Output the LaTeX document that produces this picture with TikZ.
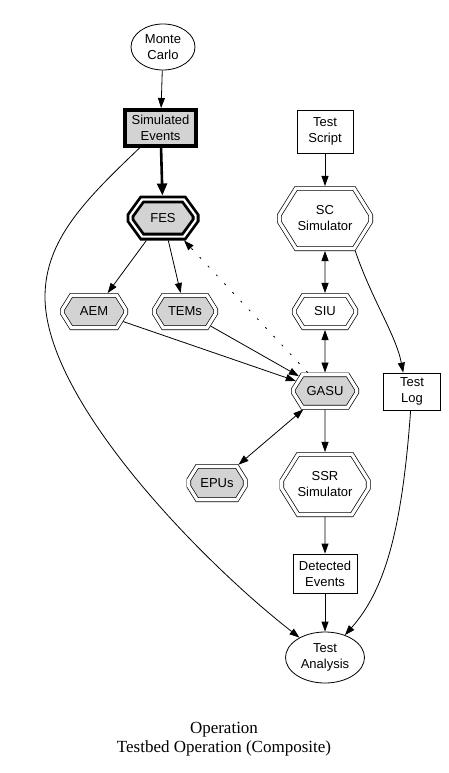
\documentclass[tikz,border=0pt]{standalone}
\usepackage{fontspec}
\setmainfont{Liberation Serif}
\newfontfamily\arialf{Liberation Sans}
\usetikzlibrary{shapes.geometric,shapes.misc,arrows.meta}
\definecolor{lgray}{RGB}{211,211,211}
\begin{document}
\begin{tikzpicture}[x=1pt,y=-1pt,
  lbl/.style={font=\arialf\fontsize{13}{16}\selectfont, align=center, inner sep=0pt},
  elln/.style 2 args={lbl, draw, ellipse, line width=0.8pt, minimum width=#1, minimum height=#2},
  boxn/.style 2 args={lbl, draw, rectangle, line width=0.8pt, minimum width=#1, minimum height=#2},
  octn/.style 2 args={lbl, draw, chamfered rectangle, chamfered rectangle angle=32,
     chamfered rectangle xsep={(#1-4.6)/4}, chamfered rectangle ysep={(#1-4.6)/4*0.625},
     line width=0.7pt, double, double distance=3.2pt, outer sep=2.3pt,
     minimum width={#1-4.6}, minimum height={#2-4.6}},
  grayfill/.style={fill=lgray},
  arr/.style={line width=0.8pt, -{Triangle[length=10pt,width=7pt]}},
  barr/.style={line width=0.8pt, {Triangle[length=10pt,width=7pt]}-{Triangle[length=10pt,width=7pt]}},
  thickarr/.style={line width=2.6pt, -{Triangle[length=12pt,width=10pt]}},
  dotarr/.style={line width=0.8pt, dash pattern=on 2pt off 10pt, -{Triangle[length=10pt,width=7pt]}},
]
\useasboundingbox (0,0) rectangle (448,773);

% nodes
\node[elln={64}{46}] (mc) at (163,47) {Monte\\Carlo};
\node[lbl, draw, rectangle, line width=4pt, grayfill, minimum width=71, minimum height=36] (sim) at (160.5,128) {Simulated\\Events};
\node[lbl, draw, chamfered rectangle, chamfered rectangle angle=36,
      chamfered rectangle xsep=16, chamfered rectangle ysep=11.6,
      grayfill, line width=2.8pt, double, double distance=2.2pt, outer sep=3.9pt,
      minimum width=65.2, minimum height=37.2] (fes) at (163,218) {FES};
\node[boxn={56}{43}] (ts) at (325,131.5) {Test\\Script};
\node[octn={96}{65}] (sc) at (325,218.5) {SC\\Simulator};
\node[octn={68}{37}, grayfill] (aem) at (94,311.5) {AEM};
\node[octn={66}{37}, grayfill] (tems) at (185,311.5) {TEMs};
\node[octn={66}{37}] (siu) at (325,311.5) {SIU};
\node[octn={68}{37}, grayfill] (gasu) at (325,391) {GASU};
\node[boxn={57}{37}] (log) at (412,391.5) {Test\\Log};
\node[octn={61}{38}, grayfill] (epus) at (217,483) {EPUs};
\node[octn={91}{65}] (ssr) at (325,484.5) {SSR\\Simulator};
\node[boxn={64}{39}] (de) at (325,573.5) {Detected\\Events};
\node[elln={79}{51}] (ta) at (325,657.5) {Test\\Analysis};

\node[font=\fontsize{17}{18.5}\selectfont, align=center, inner sep=0pt] (title) at (224,739) {Operation\\Testbed Operation (Composite)};

% edges
\draw[arr] (mc) -- (sim);
\draw[thickarr] (sim) -- (fes);
\draw[arr] (sim) .. controls (85,200) and (45,240) .. (45,297) .. controls (45,400) and (200,560) .. (ta);
\draw[arr] (fes) -- (aem);
\draw[arr] (fes) -- (tems);
\draw[dotarr] (gasu) -- (fes);
\draw[arr] (aem) -- (gasu);
\draw[arr] (tems) -- (gasu);
\draw[arr] (ts) -- (sc);
\draw[barr] (sc) -- (siu);
\draw[barr] (siu) -- (gasu);
\draw[arr] (sc.-47) .. controls (372,300) and (396,335) .. (log.115);
\draw[barr] (gasu) -- (epus);
\draw[arr] (gasu) -- (ssr);
\draw[arr] (ssr) -- (de);
\draw[arr] (de) -- (ta);
\draw[arr] (log) .. controls (402,530) and (385,590) .. (ta);
\end{tikzpicture}
\end{document}
